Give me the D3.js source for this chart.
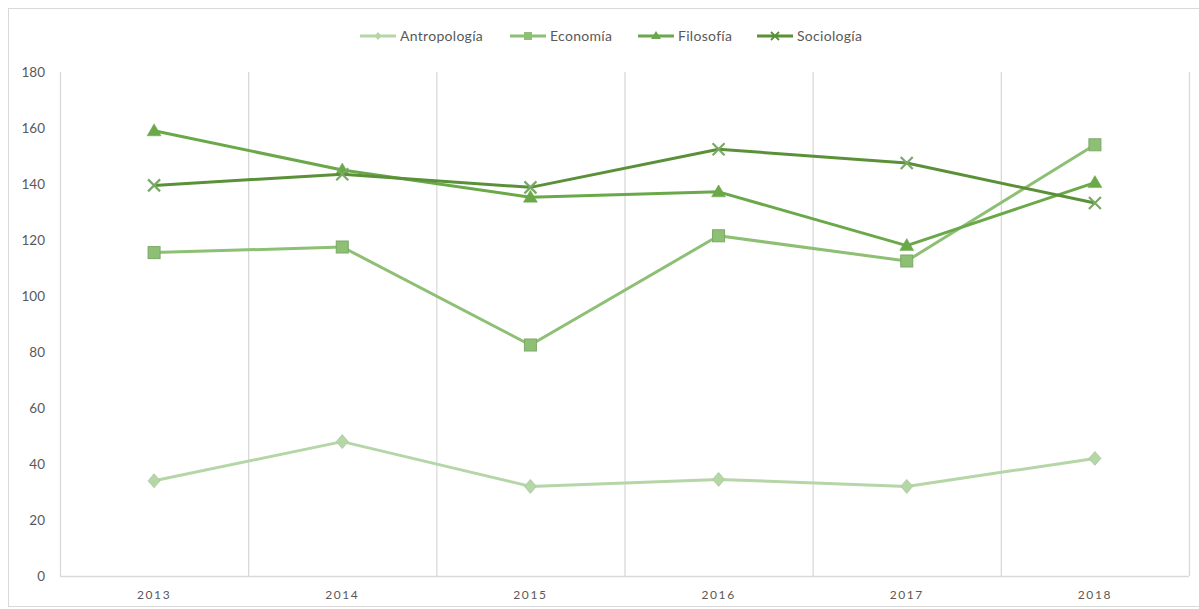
<!DOCTYPE html>
<html><head><meta charset="utf-8">
<script src="https://cdn.jsdelivr.net/npm/d3@7"></script>
<style>
html,body{margin:0;padding:0;background:#fff;}
text{font-family:Lato,"Open Sans",sans-serif;fill:#595959;}
</style></head>
<body><svg id="c" width="1199" height="609"></svg>
<script>
const years = ["2013","2014","2015","2016","2017","2018"];
const antropologia = [34, 48, 32, 34.5, 32, 42];
const economia = [115.5, 117.5, 82.5, 121.5, 112.5, 154];
const filosofia = [159, 145, 135.3, 137.2, 118, 140.5];
const sociologia = [139.5, 143.5, 138.8, 152.4, 147.5, 133.2];
const yTicks = [0,20,40,60,80,100,120,140,160,180];
const seriesNames = ["Antropología","Economía","Filosofía","Sociología"];

const series = [
  {name: seriesNames[0], values: antropologia, color: "#b5d6a7", marker: "diamond"},
  {name: seriesNames[1], values: economia, color: "#8dbf74", marker: "square"},
  {name: seriesNames[2], values: filosofia, color: "#6aa84a", marker: "triangle"},
  {name: seriesNames[3], values: sociologia, color: "#5a9037", marker: "cross"}
];

const svg = d3.select("#c");
svg.append("rect").attr("x",8.5).attr("y",8.5).attr("width",1199).attr("height",598)
  .attr("fill","none").attr("stroke","#d9d9d9");

const L = 60, R = 1189, T = 72, B = 576;
const x = d3.scaleBand().domain(years).range([L, R]);
const y = d3.scaleLinear().domain([0,180]).range([B, T]);

const bounds = years.map(d => x(d)).concat([R]);
svg.append("g").selectAll("line").data(bounds).join("line")
  .attr("x1", d => d + 0.5).attr("x2", d => d + 0.5)
  .attr("y1", T).attr("y2", B)
  .attr("stroke", "#d9d9d9").attr("stroke-width", 1.3);

svg.append("line").attr("x1", L).attr("x2", R).attr("y1", B + 0.5).attr("y2", B + 0.5)
  .attr("stroke", "#d9d9d9").attr("stroke-width", 1.3);

const yAxis = d3.axisLeft(y).tickValues(yTicks).tickSize(0).tickPadding(15);
const gy = svg.append("g").attr("transform", `translate(${L},0)`).call(yAxis);
gy.select(".domain").remove();
gy.selectAll("text").style("font-family","Lato,'Open Sans',sans-serif").style("font-size","13.5px").attr("fill","#595959");

const xAxis = d3.axisBottom(x).tickSize(0).tickPadding(14);
const gx = svg.append("g").attr("transform", `translate(0,${B})`).call(xAxis);
gx.select(".domain").remove();
gx.selectAll("text").style("font-family","Lato,'Open Sans',sans-serif").style("font-size","12px")
  .style("letter-spacing","1.6px").attr("fill","#595959");

const cx = d => x(d) + x.bandwidth() / 2;

function drawMarker(g, type, color, px, py) {
  if (type === "diamond") {
    g.append("path").attr("d", `M${px},${py-7}L${px+6},${py}L${px},${py+7}L${px-6},${py}Z`)
      .attr("fill", color).attr("stroke", "#a9c99c").attr("stroke-width", 0.8);
  } else if (type === "square") {
    g.append("rect").attr("x", px-6).attr("y", py-6).attr("width", 12).attr("height", 12)
      .attr("fill", color).attr("stroke", "#7ca866").attr("stroke-width", 1);
  } else if (type === "triangle") {
    g.append("path").attr("d", `M${px},${py-7}L${px+7},${py+5}L${px-7},${py+5}Z`)
      .attr("fill", color).attr("stroke", color).attr("stroke-width", 0.5);
  } else if (type === "cross") {
    g.append("path").attr("d", `M${px-6},${py-6}L${px+6},${py+6}M${px+6},${py-6}L${px-6},${py+6}`)
      .attr("stroke", "#7aa866").attr("stroke-width", 2.2).attr("fill", "none");
  }
}

const line = d3.line().x((d, i) => cx(years[i])).y(d => y(d));

series.forEach(s => {
  const g = svg.append("g");
  g.append("path").datum(s.values).attr("d", line)
    .attr("fill", "none").attr("stroke", s.color).attr("stroke-width", 3)
    .attr("stroke-linejoin", "round");
  s.values.forEach((v, i) => drawMarker(g, s.marker, s.color, cx(years[i]), y(v)));
});

const legendX = [360, 510, 638, 757];
const leg = svg.append("g");
series.forEach((s, i) => {
  const lx = legendX[i], ly = 36;
  leg.append("line").attr("x1", lx).attr("x2", lx + 36).attr("y1", ly).attr("y2", ly)
    .attr("stroke", s.color).attr("stroke-width", 3);
  const g = leg.append("g");
  const mx = lx + 18;
  if (s.marker === "diamond") {
    g.append("path").attr("d", `M${mx},${ly-4}L${mx+3.5},${ly}L${mx},${ly+4}L${mx-3.5},${ly}Z`).attr("fill", s.color);
  } else if (s.marker === "square") {
    g.append("rect").attr("x", mx-4).attr("y", ly-4).attr("width", 8).attr("height", 8).attr("fill", s.color);
  } else if (s.marker === "triangle") {
    g.append("path").attr("d", `M${mx},${ly-5}L${mx+5},${ly+3}L${mx-5},${ly+3}Z`).attr("fill", s.color);
  } else {
    g.append("path").attr("d", `M${mx-4},${ly-4}L${mx+4},${ly+4}M${mx+4},${ly-4}L${mx-4},${ly+4}`)
      .attr("stroke", s.color).attr("stroke-width", 1.8);
  }
  leg.append("text").attr("x", lx + 40).attr("y", ly).attr("dy", "0.35em")
    .style("font-size", "14px").style("letter-spacing", "0.3px").text(s.name);
});
</script></body></html>
